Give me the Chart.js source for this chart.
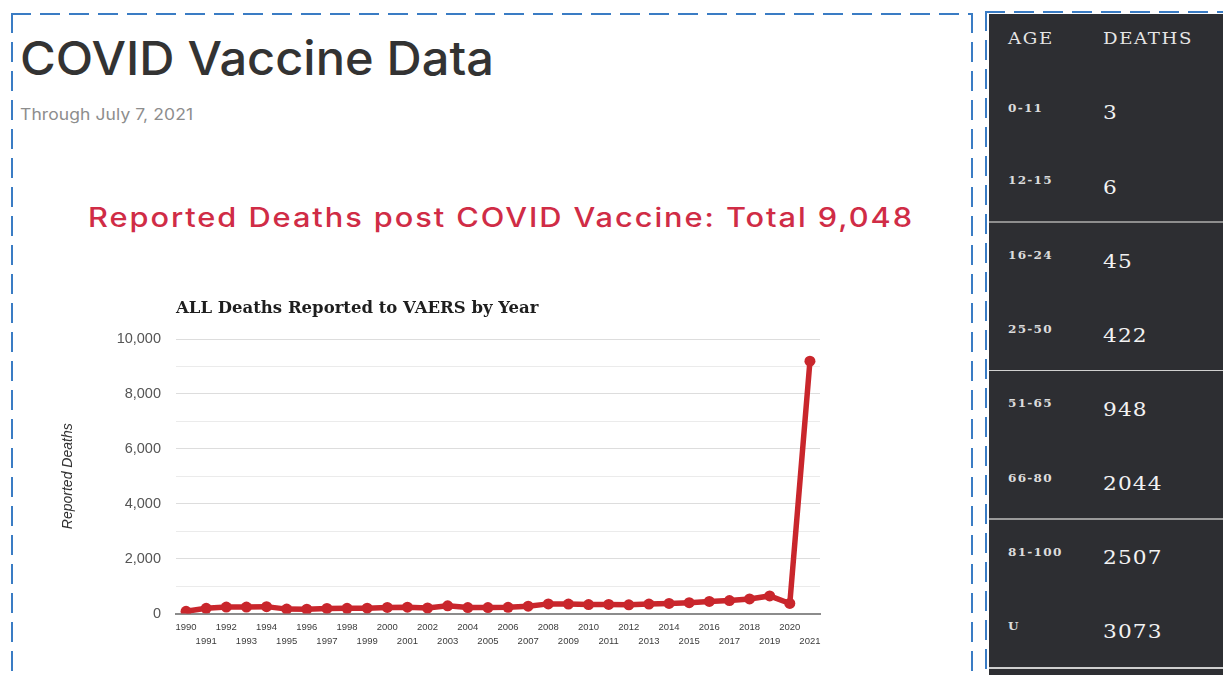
<!DOCTYPE html>
<html>
<head>
<meta charset="utf-8">
<script src="https://cdn.jsdelivr.net/npm/chart.js@4.4.1/dist/chart.umd.min.js"></script>
<style>
  html, body { margin: 0; padding: 0; background: #ffffff; }
  body { width: 1223px; height: 675px; position: relative; overflow: hidden; }
  .abs { position: absolute; white-space: nowrap; line-height: 1; transform-origin: left center; }
  .hd { font-family: Inter, "Open Sans", sans-serif; }
  .dash-h { position: absolute; height: 2px; background: repeating-linear-gradient(90deg, #3a7cc4 0 20px, transparent 20px 29px); }
  .dash-v { position: absolute; width: 2px; background: repeating-linear-gradient(180deg, #3a7cc4 0 20px, transparent 20px 29px); }
  #panel { position: absolute; left: 989px; top: 14px; width: 234px; height: 661px; background: #2d2e32; }
  .tbl { font-family: "DejaVu Serif", serif; color: #ececec; }
  .sep { position: absolute; left: 989px; width: 234px; }
  #chartWrap { position: absolute; left: 40px; top: 290px; width: 790px; height: 365px; }
</style>
</head>
<body>
<!-- dashed frames -->
<div class="dash-h" style="left:11px; top:13px; width:962px;"></div>
<div class="dash-v" style="left:11px; top:13px; height:662px;"></div>
<div class="dash-v" style="left:971px; top:13px; height:662px;"></div>
<div class="dash-h" style="left:985px; top:11px; width:238px;"></div>
<div class="dash-v" style="left:985px; top:11px; height:664px;"></div>
<div id="panel"></div>

<!-- headings -->
<div id="h1" class="abs hd" style="left:20px; top:35px; font-size:46.5px; font-weight:500; color:#333333;">COVID Vaccine Data</div>
<div id="h2" class="abs hd" style="left:20px; top:107px; font-size:15.6px; font-weight:400; color:#8d8d8d;">Through July 7, 2021</div>
<div id="h3" class="abs hd" style="left:88px; top:204px; font-size:26.5px; font-weight:500; color:#d02c46;">Reported Deaths post COVID Vaccine: Total 9,048</div>

<div id="chartWrap"><canvas id="c" width="790" height="365"></canvas></div>

<script>
// ---- data ----
const years = ['1990','1991','1992','1993','1994','1995','1996','1997','1998','1999',
               '2000','2001','2002','2003','2004','2005','2006','2007','2008','2009',
               '2010','2011','2012','2013','2014','2015','2016','2017','2018','2019',
               '2020','2021'];
const deaths = [80, 190, 235, 235, 250, 160, 155, 185, 190, 195,
                220, 230, 200, 280, 215, 215, 225, 265, 350, 345,
                325, 330, 315, 345, 365, 395, 440, 470, 530, 640,
                365, 9190];
const yLabelValues = [0, 2000, 4000, 6000, 8000, 10000];
const chartTitle = 'ALL Deaths Reported to VAERS by Year';
const yAxisTitle = 'Reported Deaths';

const ageGroups = ['0-11', '12-15', '16-24', '25-50', '51-65', '66-80', '81-100', 'U'];
const ageDeaths = ['3', '6', '45', '422', '948', '2044', '2507', '3073'];
const tableHeaders = ['AGE', 'DEATHS'];

// ---- fit widths: stretch a little, then letter-space the rest ----
function fitEl(el, target, maxScale) {
  el.style.letterSpacing = '0px';
  el.style.transform = 'none';
  const w = el.getBoundingClientRect().width;
  const n = Math.max(el.textContent.length - 1, 1);
  const s = Math.min(target / w, maxScale);
  const ls = (target / s - w) / n;
  el.style.letterSpacing = ls + 'px';
  el.style.transform = 'scaleX(' + s + ')';
}
fitEl(document.getElementById('h1'), 474, 1.06);
fitEl(document.getElementById('h2'), 173, 1.12);
fitEl(document.getElementById('h3'), 824, 1.16);

// ---- table ----
const labelCenters = [108.3, 181, 255.3, 329.3, 403.3, 478.3, 552.7, 626.7];
const numCenters = [112.3, 186.7, 260.7, 335, 409, 482.7, 557.3, 631];
function addText(txt, left, centerY, size, weight, spacing, scale, color) {
  const d = document.createElement('div');
  d.className = 'abs tbl';
  d.textContent = txt;
  d.style.left = left + 'px';
  d.style.top = (centerY - size * 0.48) + 'px';
  d.style.fontSize = size + 'px';
  d.style.fontWeight = weight;
  d.style.letterSpacing = spacing + 'px';
  d.style.transform = 'scaleX(' + scale + ')';
  if (color) d.style.color = color;
  document.body.appendChild(d);
  return d;
}
addText(tableHeaders[0], 1008, 39, 16.5, 400, 1.5, 1.1, '#e6e6e6');
addText(tableHeaders[1], 1103, 39, 16.5, 400, 1.5, 1.1, '#e6e6e6');
ageGroups.forEach((g, i) => {
  addText(g, 1008, labelCenters[i], 11.5, 700, 1.2, 1.05, '#dcdcdc');
  addText(ageDeaths[i], 1103, numCenters[i], 19, 400, 1, 1.14, '#f2f2f2');
});
const seps = [[220.5, 2, '#8e8e8e'], [369.5, 1.5, '#d0d0d0'], [517.5, 2, '#9a9a9a'], [667, 1.5, '#cfcfcf']];
seps.forEach(s => {
  const d = document.createElement('div');
  d.className = 'sep';
  d.style.top = s[0] + 'px';
  d.style.height = s[1] + 'px';
  d.style.background = s[2];
  document.body.appendChild(d);
});

// ---- chart ----
const ctx = document.getElementById('c');
new Chart(ctx, {
  type: 'line',
  data: {
    labels: years,
    datasets: [{
      data: deaths,
      borderColor: '#c9262c',
      backgroundColor: '#c9262c',
      borderWidth: 5.5,
      pointRadius: 5.5,
      pointBorderWidth: 0,
      pointBackgroundColor: '#c9262c',
      tension: 0,
      fill: false
    }]
  },
  options: {
    responsive: false,
    devicePixelRatio: 1,
    animation: false,
    layout: { padding: { left: 16, right: 10, top: 0, bottom: 0 } },
    plugins: {
      legend: { display: false },
      tooltip: { enabled: false },
      title: {
        display: true,
        text: chartTitle,
        align: 'start',
        fullSize: false,
        color: '#1e1e1e',
        font: { family: 'DejaVu Serif', weight: 'bold', size: 16.5 },
        padding: { top: 9, bottom: 20.2 }
      }
    },
    scales: {
      x: {
        type: 'category',
        offset: true,
        grid: { display: false, drawTicks: false },
        border: { display: true, color: '#8c8c8c', width: 2 },
        ticks: {
          autoSkip: false,
          maxRotation: 0,
          minRotation: 0,
          padding: 6.5,
          color: '#3c3c3c',
          font: { family: 'Liberation Sans', size: 9.5, lineHeight: '14px' },
          callback: function(v, i) { return i % 2 === 0 ? [years[i], ''] : ['', years[i]]; }
        },
        afterFit: s => { s.height = 41.5; }
      },
      y: {
        min: 0,
        max: 10000,
        grid: {
          drawTicks: false,
          color: c => c.tick.value === 0 ? '#8c8c8c' : (yLabelValues.includes(c.tick.value) ? '#dddddd' : '#ebebeb'),
          lineWidth: c => c.tick.value === 0 ? 2 : 1
        },
        border: { display: false },
        ticks: {
          stepSize: 1000,
          padding: 15,
          color: '#555555',
          font: { family: 'Liberation Sans', size: 14.5 },
          callback: v => yLabelValues.includes(v) ? v.toLocaleString('en-US') : ''
        },
        title: {
          display: true,
          text: yAxisTitle,
          color: '#333333',
          font: { family: 'Liberation Sans', size: 14, style: 'italic' },
          padding: { top: 3.5, bottom: 4 }
        },
        afterFit: s => { s.width = 120; }
      }
    }
  }
});
</script>
</body>
</html>
